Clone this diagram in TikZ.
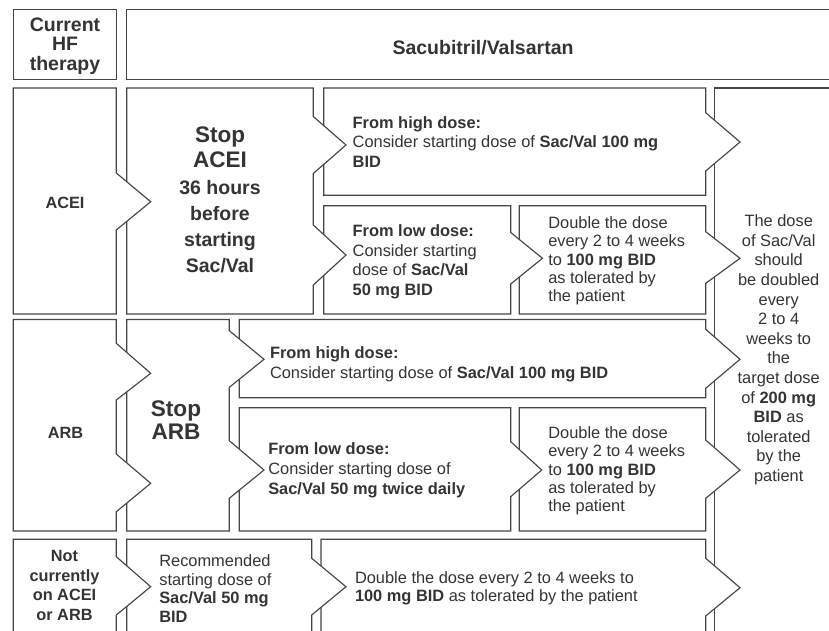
\documentclass[tikz,border=0pt]{standalone}
\usepackage{fontspec}
\setmainfont{Liberation Sans}
\definecolor{linec}{RGB}{70,70,70}
\definecolor{txtc}{RGB}{52,52,52}
\tikzset{
  box/.style={draw=linec, line width=1.15pt, fill=white, line join=miter},
  txt/.style={inner sep=0pt, outer sep=0pt, text=txtc},
  body/.style={txt, align=left, anchor=north west, font=\fontsize{16.4}{#1}\selectfont},
  body/.default=19.5,
  bodyc/.style={txt, align=center, anchor=north, font=\fontsize{16.4}{#1}\selectfont},
  bodyc/.default=19.5,
}
\begin{document}
\begin{tikzpicture}[x=1pt,y=-1pt]
\useasboundingbox (0,0) rectangle (829,630);
\clip (0,0) rectangle (829,630);

% header
\draw[box] (13.3,9.5) rectangle (116.5,79.5);
\draw[box] (126.5,9.5) rectangle (845,79.5);

% right column
\draw[box] (714.7,88) rectangle (845,640);

% double boxes
\draw[box] (519.3,205.7) -- (705.7,205.7) -- (705.7,231.7) -- (740,258.3) -- (705.7,283.3) -- (705.7,314) -- (519.3,314) -- cycle;
\draw[box] (519.3,407.7) -- (705.7,407.7) -- (705.7,440) -- (740,470) -- (705.7,498.3) -- (705.7,531) -- (519.3,531) -- cycle;
\draw[box] (321,539.3) -- (705.7,539.3) -- (705.7,558.3) -- (740,587.7) -- (705.7,616) -- (705.7,640) -- (321,640) -- cycle;

% high / low dose boxes
\draw[box] (323.7,88) -- (705.7,88) -- (705.7,112.7) -- (740,142) -- (705.7,171) -- (705.7,195.3) -- (323.7,195.3) -- cycle;
\draw[box] (323.7,205.7) -- (510.7,205.7) -- (510.7,232.5) -- (542.5,258.3) -- (510.7,284) -- (510.7,314) -- (323.7,314) -- cycle;
\draw[box] (239.3,319.5) -- (705.7,319.5) -- (705.7,329.3) -- (740,359.3) -- (705.7,388.3) -- (705.7,397.7) -- (239.3,397.7) -- cycle;
\draw[box] (239.3,407.7) -- (510.7,407.7) -- (510.7,441.7) -- (541.7,470) -- (510.7,496.7) -- (510.7,531) -- (239.3,531) -- cycle;

% stop boxes
\draw[box] (126.7,88) -- (313.3,88) -- (313.3,116.5) -- (346,145) -- (313.3,173.5) -- (313.3,225) -- (346,255) -- (313.3,285) -- (313.3,314) -- (126.7,314) -- cycle;
\draw[box] (126.7,319.5) -- (229.3,319.5) -- (229.3,330.7) -- (264,359.3) -- (229.3,387.3) -- (229.3,440.7) -- (264,470) -- (229.3,498.3) -- (229.3,531) -- (126.7,531) -- cycle;
\draw[box] (126.7,539.3) -- (311.7,539.3) -- (311.7,558.3) -- (346,586.7) -- (311.7,615) -- (311.7,640) -- (126.7,640) -- cycle;

% first column
\draw[box] (13.3,88) -- (116.3,88) -- (116.3,173) -- (150.7,201.7) -- (116.3,230) -- (116.3,314) -- (13.3,314) -- cycle;
\draw[box] (13.3,319.5) -- (116.3,319.5) -- (116.3,343.3) -- (150.7,373.3) -- (116.3,400) -- (116.3,454) -- (150.7,483.3) -- (116.3,511.7) -- (116.3,531) -- (13.3,531) -- cycle;
\draw[box] (13.3,539.3) -- (116.3,539.3) -- (116.3,556.7) -- (150.7,586.7) -- (116.3,615) -- (116.3,640) -- (13.3,640) -- cycle;

% texts
\node[txt, align=center, anchor=north, font=\bfseries\fontsize{19.5}{19.7}\selectfont] (hdrL) at (65,17.6) {Current\\HF\\therapy};
\node[txt, anchor=base, font=\bfseries\fontsize{19.5}{20}\selectfont] (hdrR) at (483,54.3) {Sacubitril/Valsartan};

\node[txt, anchor=base, font=\bfseries\fontsize{16.3}{19}\selectfont] (acei) at (65,208.3) {ACEI};
\node[txt, align=center, anchor=north, font=\bfseries\fontsize{22.5}{25}\selectfont] (stopA) at (220,126.5) {Stop\\ACEI};
\node[txt, align=center, anchor=north, font=\bfseries\fontsize{19.5}{26.1}\selectfont] (stopAb) at (220,180) {36 hours\\before\\starting\\Sac/Val};

\node[body] (hiA) at (352.7,116.5) {\textbf{From high dose:}\\Consider starting dose of \textbf{Sac/Val 100 mg}\\\textbf{BID}};
\node[body] (loA) at (352.7,224.9) {\textbf{From low dose:}\\Consider starting\\dose of \textbf{Sac/Val}\\\textbf{50 mg BID}};
\node[body=18.35] (dbA) at (548.3,216.5) {Double the dose\\every 2 to 4 weeks\\to \textbf{100 mg BID}\\as tolerated by\\the patient};

\node[bodyc=19.6] (rcol) at (778.7,214.9) {The dose\\of Sac/Val\\should\\be doubled\\every\\2 to 4\\weeks to\\the\\target dose\\of \textbf{200 mg}\\\textbf{BID} as\\tolerated\\by the\\patient};

\node[txt, anchor=base, font=\bfseries\fontsize{16.3}{19}\selectfont] (arb) at (65.5,438.5) {ARB};
\node[txt, align=center, anchor=north, font=\bfseries\fontsize{22.6}{23.3}\selectfont] (stopB) at (176,400.5) {Stop\\ARB};

\node[body=20] (hiB) at (270,346.5) {\textbf{From high dose:}\\Consider starting dose of \textbf{Sac/Val 100 mg BID}};
\node[body=20] (loB) at (268.3,442.2) {\textbf{From low dose:}\\Consider starting dose of\\\textbf{Sac/Val 50 mg twice daily}};
\node[body=18.35] (dbB) at (548.3,426.5) {Double the dose\\every 2 to 4 weeks\\to \textbf{100 mg BID}\\as tolerated by\\the patient};

\node[txt, align=center, anchor=north, font=\bfseries\fontsize{16.3}{19.5}\selectfont] (none) at (64.5,550.6) {Not\\currently\\on ACEI\\or ARB};
\node[body=18.6] (rec) at (159.3,554.9) {Recommended\\starting dose of\\\textbf{Sac/Val 50 mg}\\\textbf{BID}};
\node[body=18.4] (dbC) at (355,571.5) {Double the dose every 2 to 4 weeks to\\\textbf{100 mg BID} as tolerated by the patient};
\end{tikzpicture}
\end{document}
